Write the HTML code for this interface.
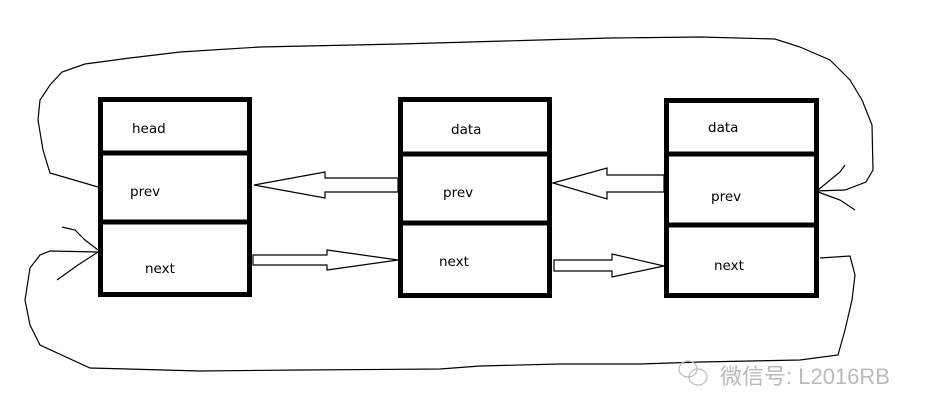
<!DOCTYPE html>
<html><head><meta charset="utf-8"><style>
html,body{margin:0;padding:0;background:#fff;width:926px;height:415px;overflow:hidden}
svg{display:block}
text{font-family:"DejaVu Sans","Liberation Sans",sans-serif;font-size:13.5px;fill:#000}
</style></head><body>
<svg width="926" height="415" viewBox="0 0 926 415" xmlns="http://www.w3.org/2000/svg">
<g fill="none" stroke="#000" stroke-width="5">
<rect x="100.5" y="99.5" width="149" height="195"/>
<line x1="100" y1="153" x2="250" y2="153"/>
<line x1="100" y1="222" x2="250" y2="222"/>
<rect x="400.5" y="99.5" width="149" height="196"/>
<line x1="400" y1="154" x2="550" y2="154"/>
<line x1="400" y1="223" x2="550" y2="223"/>
<rect x="666.5" y="100.5" width="150" height="195"/>
<line x1="666" y1="154" x2="817" y2="154"/>
<line x1="666" y1="225" x2="817" y2="225"/>
</g>
<g fill="#fff" stroke="#000" stroke-width="1.2">
<polygon points="254,185 325,172 325,178 398,178 398,192 325,192 325,198"/>
<polygon points="253,255 327,255 327,250 398,260 327,270 327,265 253,265"/>
<polygon points="553,183 607,168 607,175 664,175 664,192 607,192 607,199"/>
<polygon points="554,260 612,260 612,254 664,266 612,277 612,271 554,271"/>
</g>
<g fill="none" stroke="#000" stroke-width="1.2">
<path d="M98,187 L50,173 L43,150 L38,120 L40,100 L50,85 L62,72 L85,64 L130,58 L180,52 L260,47 L400,44 L470,42 L540,40 L610,38 L700,37 L775,39 L800,47 L830,60 L850,80 L862,100 L872,125 L873,170 L866,182 L845,190 L815,191"/>
<path d="M818,190 L840,172 L845,165"/>
<path d="M818,192 L840,200 L855,210"/>
<path d="M820,258 L850,256 L855,275 L852,300 L845,330 L838,355 L800,360 L700,362 L640,364 L560,364 L480,366 L440,369 L300,370 L200,371 L90,368 L40,345 L30,325 L25,300 L30,268 L40,255 L50,251 L98,252"/>
<path d="M98,250 L85,240 L75,230 L62,227"/>
<path d="M98,252 L78,265 L57,280"/>
</g>
<text x="132" y="133">head</text>
<text x="130" y="196">prev</text>
<text x="145" y="273">next</text>
<text x="451" y="134">data</text>
<text x="443" y="197">prev</text>
<text x="439" y="266">next</text>
<text x="708" y="132">data</text>
<text x="711" y="201">prev</text>
<text x="714" y="270">next</text>
<g fill="none" stroke="#bbb" stroke-width="1.2">
<ellipse cx="688" cy="369" rx="9" ry="8"/>
<ellipse cx="698" cy="377" rx="9" ry="8"/>
</g>
<text x="720" y="384" style="font-family:'Liberation Sans','Noto Sans CJK SC',sans-serif;font-size:22px;fill:#bbb">微信号: L2016RB</text>
</svg>
</body></html>
